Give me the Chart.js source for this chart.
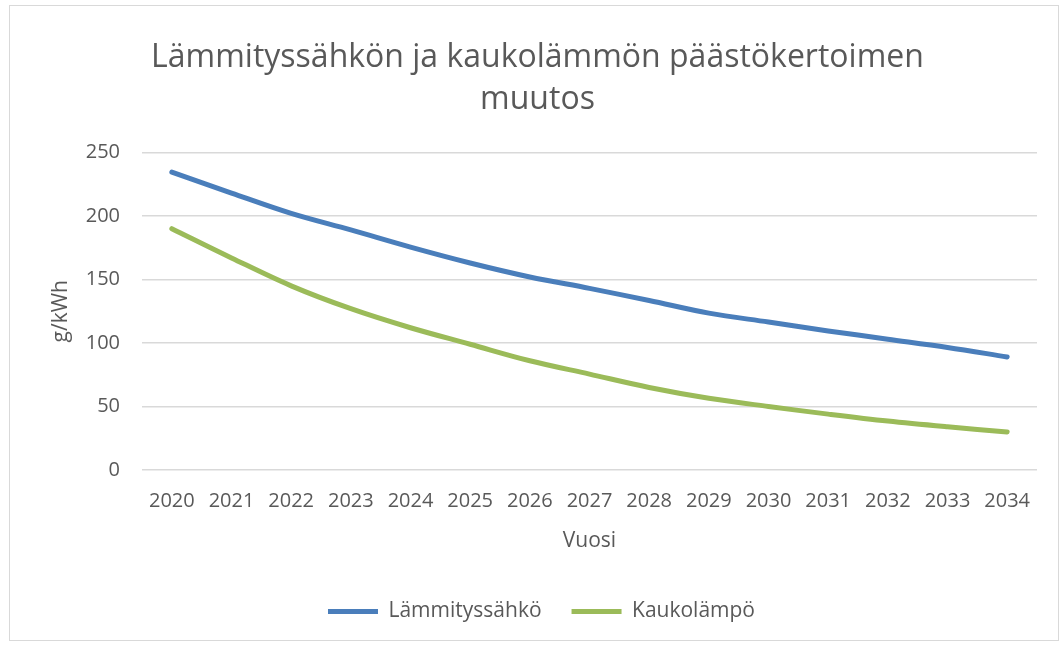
<!DOCTYPE html>
<html>
<head>
<meta charset="utf-8">
<script src="https://cdn.jsdelivr.net/npm/chart.js@4"></script>
<style>
  body { margin: 0; background: #fff; }
  #wrap { position: relative; width: 1059px; height: 646px; }
  #frame {
    position: absolute; left: 9px; top: 5px; width: 1048px; height: 634px;
    border: 1px solid #d9d9d9; pointer-events: none;
  }
</style>
</head>
<body>
<div id="wrap">
  <canvas id="paastoChart" width="1059" height="646"></canvas>
  <div id="frame"></div>
</div>
<script>
/* ---- päästökertoimet g/kWh ---- */
const vuodet = ["2020", "2021", "2022", "2023", "2024", "2025", "2026", "2027",
                "2028", "2029", "2030", "2031", "2032", "2033", "2034"];
const lammityssahko = [234.5, 218, 202, 189, 175.5, 163, 152, 143, 133.5, 123.5, 116.5, 109.5, 103, 96.5, 89];
const kaukolampo = [190, 167, 145, 127, 112, 99, 86, 75.5, 65, 56.5, 50, 44, 38.5, 34, 30];
const yTicks = [0, 50, 100, 150, 200, 250];

const tekstiVari = "#595959";
const fontti = "'Open Sans', sans-serif";

// otsikko ja selite hieman oikealle, kuten Excelin kaaviossa
const keskitys = {
    id: "keskitys",
    afterLayout(chart) {
        chart.legend.left += 26;
        chart.titleBlock.left += 18;
    },
};

const data = {
    labels: vuodet,
    datasets: [
        {
            label: "Lämmityssähkö",
            data: lammityssahko,
            borderColor: "#4a7ebb",
            backgroundColor: "#4a7ebb",
            borderWidth: 5,
            borderCapStyle: "round",
            borderJoinStyle: "round",
            pointRadius: 0,
            tension: 0.35,
        },
        {
            label: "Kaukolämpö",
            data: kaukolampo,
            borderColor: "#9bbb59",
            backgroundColor: "#9bbb59",
            borderWidth: 5,
            borderCapStyle: "round",
            borderJoinStyle: "round",
            pointRadius: 0,
            tension: 0.35,
        },
    ],
};

const config = {
    type: "line",
    data: data,
    options: {
        responsive: false,
        animation: false,
        layout: { padding: { top: 10, left: 20, right: 22, bottom: 14 } },
        plugins: {
            title: {
                display: true,
                text: ["Lämmityssähkön ja kaukolämmön päästökertoimen", "muutos"],
                color: tekstiVari,
                font: { family: fontti, size: 32, weight: "normal", lineHeight: 1.32 },
                padding: { top: 27, bottom: 31 },
            },
            legend: {
                position: "bottom",
                labels: {
                    color: tekstiVari,
                    font: { family: fontti, size: 21 },
                    usePointStyle: true,
                    pointStyle: "line",
                    pointStyleWidth: 50,
                    padding: 30,
                },
            },
            tooltip: { enabled: false },
        },
        scales: {
            x: {
                offset: true,
                grid: { display: false, drawTicks: false },
                border: { display: false },
                ticks: {
                    color: tekstiVari,
                    font: { family: fontti, size: 20 },
                    padding: 19,
                    maxRotation: 0,
                    autoSkip: false,
                },
                title: {
                    display: true,
                    text: "Vuosi",
                    color: tekstiVari,
                    font: { family: fontti, size: 21 },
                    padding: { top: 0, bottom: 17 },
                },
                afterFit: (scale) => { scale.height = 101; },
            },
            y: {
                min: 0,
                max: 250,
                afterBuildTicks: (scale) => {
                    scale.ticks = yTicks.map((v) => ({ value: v }));
                },
                grid: { color: "#d9d9d9", lineWidth: 1.5, drawTicks: false },
                border: { display: false },
                ticks: {
                    color: tekstiVari,
                    font: { family: fontti, size: 20 },
                    padding: 22,
                },
                title: {
                    display: true,
                    text: "g/kWh",
                    color: tekstiVari,
                    font: { family: fontti, size: 21 },
                    padding: { top: 28, bottom: 13 },
                },
                afterFit: (scale) => { scale.width = 122; },
            },
        },
    },
    plugins: [keskitys],
};

const paastoChart = new Chart(document.getElementById("paastoChart"), config);
</script>
</body>
</html>
